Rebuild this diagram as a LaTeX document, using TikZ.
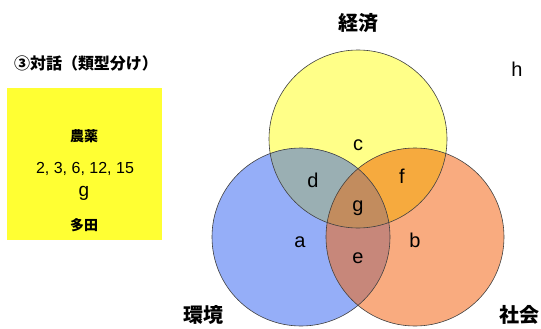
\documentclass[tikz,border=0pt]{standalone}
\usepackage{fontspec}
\setmainfont{Liberation Sans}
\newfontfamily\cjk{Noto Sans CJK JP}
\definecolor{cy}{HTML}{FFFF88}
\definecolor{cb}{HTML}{95AEF8}
\definecolor{co}{HTML}{F9AB7F}
\definecolor{cd}{HTML}{9AAFB3}
\definecolor{cf}{HTML}{F6AA3E}
\definecolor{ce}{HTML}{C7877A}
\definecolor{cg}{HTML}{C28C5E}
\definecolor{boxy}{HTML}{FFFF33}
\definecolor{edge}{HTML}{404040}
\tikzset{
  ring/.style={draw=edge, line width=0.6pt},
  lbl/.style={font=\fontsize{20}{24}\selectfont, inner sep=0pt, anchor=base},
  head/.style={font=\cjk\bfseries\fontsize{20}{24}\selectfont, inner sep=0pt},
  boxtxt/.style={inner sep=0pt}
}
\begin{document}
\begin{tikzpicture}[x=1pt,y=-1pt]
\useasboundingbox (0,0) rectangle (541,329);
\fill[white] (0,0) rectangle (541,329);
\coordinate (Y) at (358,139);
\coordinate (B) at (301,237);
\coordinate (O) at (415,237);
\def\R{89}
\fill[cy] (Y) circle[radius=\R];
\fill[cb] (B) circle[radius=\R];
\fill[co] (O) circle[radius=\R];
\begin{scope}
  \clip (Y) circle[radius=\R];
  \fill[cd] (B) circle[radius=\R];
  \fill[cf] (O) circle[radius=\R];
\end{scope}
\begin{scope}
  \clip (B) circle[radius=\R];
  \fill[ce] (O) circle[radius=\R];
  \clip (Y) circle[radius=\R];
  \fill[cg] (O) circle[radius=\R];
\end{scope}
\draw[ring] (Y) circle[radius=\R];
\draw[ring] (B) circle[radius=\R];
\draw[ring] (O) circle[radius=\R];

\node[lbl] (lc) at (358,150) {c};
\node[lbl] (ld) at (313,187) {d};
\node[lbl] (lf) at (402,183) {f};
\node[lbl] (lg) at (358,211) {g};
\node[lbl] (la) at (300,247) {a};
\node[lbl] (lb) at (415,247) {b};
\node[lbl] (le) at (358,263) {e};
\node[lbl] (lh) at (517,77) {h};

\node[head] (keizai) at (358,23) {経済};
\node[head] (kankyo) at (203,315) {環境};
\node[head] (shakai) at (519,315) {社会};

\node[font=\cjk\bfseries\fontsize{16}{19}\selectfont, inner sep=0pt] (title) at (86,63) {③対話（類型分け）};

\fill[boxy] (7,88) rectangle (162,240);
\node[boxtxt, font=\cjk\bfseries\fontsize{14}{17}\selectfont] (t1) at (84,136) {農薬};
\node[boxtxt, font=\fontsize{16}{19}\selectfont, anchor=base] (t2) at (85,173) {2, 3, 6, 12, 15};
\node[boxtxt, font=\fontsize{19}{22}\selectfont, anchor=base] (t3) at (84,196) {g};
\node[boxtxt, font=\cjk\bfseries\fontsize{14}{17}\selectfont] (t4) at (84,225) {多田};
\end{tikzpicture}
\end{document}
